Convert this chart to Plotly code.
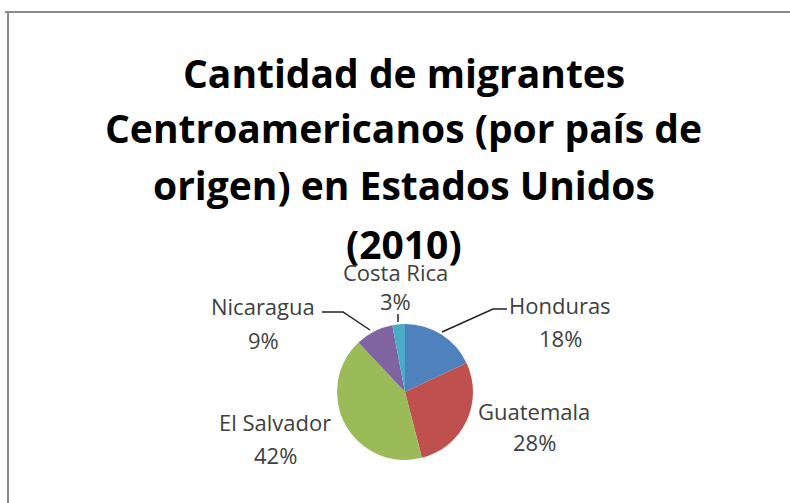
import plotly.graph_objects as go

# ---- data ----
countries = ["Honduras", "Guatemala", "El Salvador", "Nicaragua", "Costa Rica"]
shares = [18, 28, 42, 9, 3]
colors = ["#4F81BD", "#C0504D", "#9BBB59", "#8064A2", "#4BACC6"]
title_lines = ["Cantidad de migrantes", "Centroamericanos (por país de",
               "origen) en Estados Unidos", "(2010)"]

W, H = 790, 503
def px(x): return x / W
def py(y): return 1 - y / H

# pie geometry (pixels)
cx, cy, r = 405, 392, 68

fig = go.Figure(go.Pie(
    labels=countries, values=shares, sort=False, direction="clockwise",
    rotation=0, marker=dict(colors=colors, line=dict(width=0)),
    textinfo="none", hoverinfo="label+percent", showlegend=False,
    domain=dict(x=[px(cx - r), px(cx + r)], y=[py(cy + r), py(cy - r)]),
))

# label placement (pixel centres of name line and percent line)
label_pos = {
    "Honduras": (560, 305, 338),
    "Guatemala": (534, 411, 442),
    "El Salvador": (275, 422, 455),
    "Nicaragua": (263, 306, 340),
    "Costa Rica": (395, 272, 301),
}
total = sum(shares)
annotations = []
for name, val in zip(countries, shares):
    x, y1, y2 = label_pos[name]
    pct = f"{round(100 * val / total)}%"
    for txt, yy in ((name, y1), (pct, y2)):
        annotations.append(dict(
            text=txt, x=px(x), y=py(yy), xref="paper", yref="paper",
            xanchor="center", yanchor="middle", showarrow=False,
            font=dict(family="Open Sans", size=22, color="#404040")))

title_y = [72, 128, 184, 243]
for line, yy in zip(title_lines, title_y):
    annotations.append(dict(
        text=f"<b>{line}</b>", x=px(404), y=py(yy), xref="paper", yref="paper",
        xanchor="center", yanchor="middle", showarrow=False,
        font=dict(family="Open Sans", size=39, color="#000000")))

# leader lines
leaders = [
    [(442, 332), (493, 309), (507, 309)],
    [(322, 312), (343, 312), (370, 330)],
    [(398, 314), (398, 322)],
]
shapes = []
for pts in leaders:
    path = "M " + " L ".join(f"{px(a)},{py(b)}" for a, b in pts)
    shapes.append(dict(type="path", path=path, xref="paper", yref="paper",
                       line=dict(color="#222222", width=1.5)))

# frame (top and left edges visible)
shapes.append(dict(type="line", xref="paper", yref="paper",
                   x0=px(5), x1=1, y0=py(12), y1=py(12),
                   line=dict(color="#8a8a8a", width=2)))
shapes.append(dict(type="line", xref="paper", yref="paper",
                   x0=px(8), x1=px(8), y0=py(11), y1=0,
                   line=dict(color="#8a8a8a", width=2)))

fig.update_layout(
    width=W, height=H, margin=dict(l=0, r=0, t=0, b=0),
    paper_bgcolor="white", plot_bgcolor="white",
    annotations=annotations, shapes=shapes,
)
fig.write_html("out.html")
